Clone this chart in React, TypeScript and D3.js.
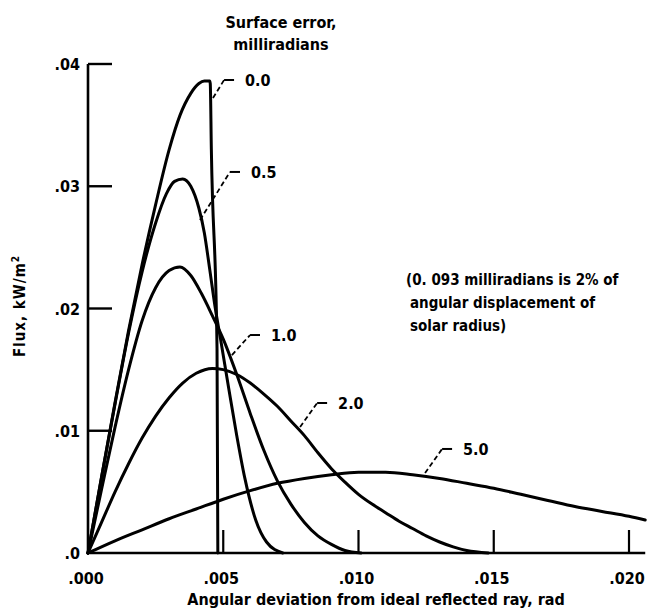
import React from 'react';
import * as d3 from 'd3';

const xTicks = [0, 0.005, 0.01, 0.015, 0.02];
const xTickLabels = ['.000', '.005', '.010', '.015', '.020'];
const yTicks = [0, 0.01, 0.02, 0.03, 0.04];
const yTickLabels = ['.0', '.01', '.02', '.03', '.04'];

const seriesNames = ['0.0', '0.5', '1.0', '2.0', '5.0'];

const x00 = [0, 0.0005, 0.001, 0.0015, 0.002, 0.0025, 0.003, 0.0034, 0.0038, 0.0041, 0.0043, 0.0045, 0.00452, 0.00456, 0.00477, 0.0048];
const y00 = [0, 0.0062, 0.0123, 0.0182, 0.0236, 0.0285, 0.033, 0.0358, 0.0376, 0.0384, 0.0386, 0.0386, 0.0384, 0.033, 0.0167, 0];

const x05 = [0, 0.0005, 0.001, 0.0015, 0.002, 0.0025, 0.0029, 0.0032, 0.0035, 0.0038, 0.0041, 0.0043, 0.0045, 0.0047, 0.0049, 0.0052, 0.0055, 0.0058, 0.0062, 0.0066, 0.0072];
const y05 = [0, 0.0062, 0.0122, 0.018, 0.023, 0.027, 0.0294, 0.0304, 0.0306, 0.03, 0.0282, 0.0262, 0.0232, 0.0201, 0.0175, 0.0135, 0.0096, 0.0061, 0.0027, 0.0009, 0];

const x10 = [0, 0.0005, 0.001, 0.0015, 0.002, 0.0025, 0.003, 0.0034, 0.0038, 0.0042, 0.0046, 0.005, 0.0055, 0.006, 0.0065, 0.007, 0.0075, 0.008, 0.0085, 0.009, 0.0095, 0.0101];
const y10 = [0, 0.0052, 0.0103, 0.015, 0.019, 0.0217, 0.0231, 0.0234, 0.0227, 0.0212, 0.0194, 0.0175, 0.0146, 0.0114, 0.0084, 0.0059, 0.004, 0.0025, 0.0014, 0.0007, 0.0002, 0];

const x20 = [0, 0.0005, 0.001, 0.0015, 0.002, 0.0025, 0.003, 0.0035, 0.004, 0.0046, 0.005, 0.0055, 0.006, 0.0065, 0.007, 0.0075, 0.008, 0.0085, 0.009, 0.0095, 0.01, 0.0105, 0.011, 0.0115, 0.012, 0.0125, 0.013, 0.0135, 0.014, 0.0148];
const y20 = [0, 0.0025, 0.005, 0.0073, 0.0094, 0.0112, 0.0127, 0.0139, 0.0147, 0.0151, 0.015, 0.0146, 0.0139, 0.013, 0.012, 0.0108, 0.0096, 0.0082, 0.0069, 0.0058, 0.0048, 0.004, 0.0033, 0.0026, 0.002, 0.0014, 0.0009, 0.0005, 0.0002, 0];

const x50 = [0, 0.001, 0.002, 0.003, 0.004, 0.005, 0.006, 0.007, 0.008, 0.009, 0.01, 0.011, 0.012, 0.013, 0.014, 0.015, 0.016, 0.017, 0.018, 0.019, 0.02, 0.0206];
const y50 = [0, 0.001, 0.0019, 0.0028, 0.0036, 0.0044, 0.0051, 0.0057, 0.0061, 0.0064, 0.0066, 0.0066, 0.0064, 0.0061, 0.0057, 0.0053, 0.0048, 0.0043, 0.0038, 0.0034, 0.003, 0.0027];

const seriesX = [x00, x05, x10, x20, x50];
const seriesY = [y00, y05, y10, y20, y50];

// leader anchors (on curve) and elbows, in data units
const anchorX = [0.00462, 0.00414, 0.00532, 0.00784, 0.01246];
const anchorY = [0.03722, 0.02724, 0.01619, 0.01030, 0.00654];
const elbowX = [0.00503, 0.00525, 0.00599, 0.00847, 0.01309];
const elbowY = [0.03869, 0.03117, 0.01783, 0.01227, 0.00851];

const titleLines = ['Surface error,', 'milliradians'];
const noteLines = ['(0. 093 milliradians is 2% of', 'angular displacement of', 'solar radius)'];
const xTitle = 'Angular deviation from ideal reflected ray, rad';

const W = 655;
const H = 612;
const FONT = "'DejaVu Sans Condensed', 'DejaVu Sans', sans-serif";

export default function App() {
  const x = d3.scaleLinear().domain([0, 0.02]).range([88, 629]);
  const y = d3.scaleLinear().domain([0, 0.04]).range([553, 64]);
  const line = d3
    .line<[number, number]>()
    .x((d) => x(d[0]))
    .y((d) => y(d[1]))
    .curve(d3.curveMonotoneX);

  const x0 = x(0);
  const y0 = y(0);
  const xEnd = x(0.0206);
  const tickLen = 23;

  return (
    <svg width={W} height={H} style={{ position: 'absolute', left: 0, top: 0, background: '#fff' }} fontFamily={FONT}>
      <rect x={0} y={0} width={W} height={H} fill="#fff" />
      {/* axes */}
      <line x1={x0} y1={y0} x2={xEnd} y2={y0} stroke="#000" strokeWidth={2.6} />
      <line x1={x0} y1={y0} x2={x0} y2={y(0.04)} stroke="#000" strokeWidth={2.6} />
      {yTicks.slice(1).map((t, i) => (
        <line key={'yt' + i} x1={x0} x2={x0 + tickLen + 1} y1={y(t)} y2={y(t)} stroke="#000" strokeWidth={2.4} />
      ))}
      {xTicks.slice(1).map((t, i) => (
        <line key={'xt' + i} x1={x(t)} x2={x(t)} y1={y0} y2={y0 - tickLen} stroke="#000" strokeWidth={2.2} />
      ))}
      {yTicks.map((t, i) => (
        <text key={'yl' + i} x={80} y={y(t) + 6} textAnchor="end" fontSize={16} fontWeight="bold" fill="#000">
          {yTickLabels[i]}
        </text>
      ))}
      {xTicks.map((t, i) => (
        <text key={'xl' + i} x={x(t) - 2} y={584} textAnchor="middle" fontSize={16} fontWeight="bold" fill="#000">
          {xTickLabels[i]}
        </text>
      ))}
      <text x={376} y={605} textAnchor="middle" fontSize={16} fontWeight="bold" fill="#000">
        {xTitle}
      </text>
      <text
        transform={`translate(25, ${y(0.0202)}) rotate(-90)`}
        textAnchor="middle"
        fontSize={15}
        fontWeight="bold"
        letterSpacing={1}
        fill="#000"
      >
        Flux,  kW/m<tspan dy={-6} fontSize={10}>2</tspan>
      </text>
      {/* curves */}
      {seriesX.map((xs, i) => (
        <path
          key={'s' + i}
          d={line(xs.map((v, j) => [v, seriesY[i][j]] as [number, number])) || ''}
          fill="none"
          stroke="#000"
          strokeWidth={3}
          strokeLinejoin="round"
          strokeLinecap="round"
        />
      ))}
      {/* leaders and labels */}
      {seriesNames.map((name, i) => {
        const ax = x(anchorX[i]);
        const ay = y(anchorY[i]);
        const ex = x(elbowX[i]);
        const ey = y(elbowY[i]);
        return (
          <g key={'lab' + i}>
            <line x1={ax} y1={ay} x2={ex} y2={ey} stroke="#000" strokeWidth={1.8} strokeDasharray="5,3" />
            <line x1={ex} y1={ey} x2={ex + 10} y2={ey} stroke="#000" strokeWidth={2} />
            <text x={ex + 21} y={ey + 6} fontSize={16} fontWeight="bold" fill="#000">
              {name}
            </text>
          </g>
        );
      })}
      {titleLines.map((t, i) => (
        <text key={'ti' + i} x={281} y={28 + i * 22} textAnchor="middle" fontSize={16} fontWeight="bold" fill="#000">
          {t}
        </text>
      ))}
      {noteLines.map((t, i) => (
        <text key={'nt' + i} x={i === 0 ? 406 : 410} y={285 + i * 23} fontSize={15} fontWeight="bold" fill="#000">
          {t}
        </text>
      ))}
    </svg>
  );
}
